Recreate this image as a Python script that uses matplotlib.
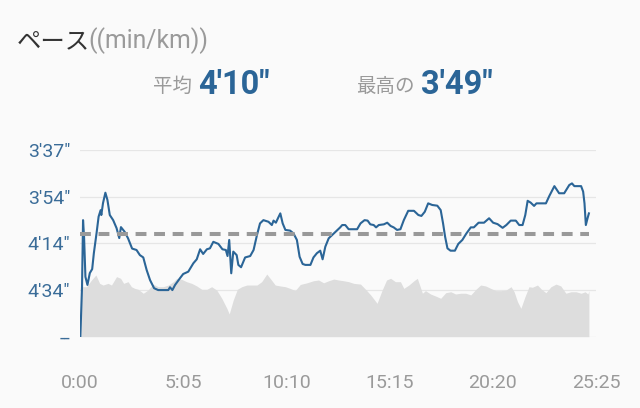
import numpy as np
import matplotlib
matplotlib.use("Agg")
import matplotlib.pyplot as plt

# ---------------- data ----------------
# pace line: time (s) and pace (s per km)
line_t = [1, 6, 9, 12, 16, 22, 29, 36, 41, 49, 55, 61, 63, 68, 75, 81, 88, 98, 108, 116,
          121, 132, 142, 154, 167, 177, 187, 197, 207, 219, 231, 261, 266, 273, 281, 295, 305, 320, 335, 345,
          355, 364, 375, 384, 394, 409, 421, 431, 436, 441, 444, 447, 453, 463, 468, 476, 488, 503, 513, 523,
          532, 542, 557, 567, 572, 579, 585, 592, 599, 607, 621, 631, 641, 649, 658, 666, 681, 690, 700, 710,
          717, 725, 735, 745, 755, 769, 775, 784, 794, 819, 829, 841, 850, 858, 868, 875, 883, 898, 908, 918,
          927, 937, 947, 957, 970, 987, 1000, 1009, 1019, 1029, 1041, 1056, 1066, 1073, 1079, 1086, 1095, 1108, 1118, 1130,
          1142, 1155, 1164, 1178, 1194, 1209, 1221, 1234, 1249, 1260, 1273, 1288, 1298, 1308, 1316, 1323, 1332, 1342, 1349, 1377,
          1387, 1402, 1416, 1431, 1446, 1454, 1461, 1481, 1487, 1491, 1495, 1500, 1504]
line_pace = [294, 272.6, 244, 251.1, 268.3, 271.8, 266.7, 265, 258.1, 249.5, 242.5, 239.7, 241.8, 236.7, 232.5, 235.3, 241.8, 244, 247.4, 251.7,
             247, 249, 251.8, 256.2, 256.8, 259, 260, 265.4, 269.7, 273.2, 274, 274, 272.8, 274, 271.8, 269, 267.1, 266.1, 262.5, 260.8,
             256.5, 258.5, 256.5, 256.1, 253.3, 254.2, 256.5, 256.8, 259.4, 252.5, 259.7, 266.8, 257.5, 259, 263.2, 264.2, 260, 259.4, 256.8, 250.4,
             245.4, 244, 244.7, 246.1, 244.2, 245.1, 243.2, 241.1, 245.4, 248.2, 248.5, 249.7, 252.5, 259.7, 262.8, 263.2, 263.2, 260, 258.2, 257.1,
             260.8, 255.4, 251.8, 250.4, 249, 247.1, 246.1, 246.1, 247.9, 247.9, 245.4, 244, 244.2, 245.8, 246.1, 247.1, 246.1, 245.8, 245.1, 246.5,
             247.1, 248.2, 247.9, 244, 240, 240, 241.8, 242.2, 240.4, 236.8, 237.5, 237.8, 239.7, 245.4, 251.1, 256.1, 257.1, 257.1, 254.2, 252.5,
             249.7, 247.1, 247.1, 245.1, 245.1, 243.2, 245.1, 245.7, 247.3, 246.1, 244.2, 244.2, 246.1, 246.1, 241.8, 235.7, 236.5, 237.9, 236.8, 236.8,
             233.7, 230.1, 232.7, 232.7, 229.7, 229.1, 230.1, 230.1, 232.1, 236.8, 246.1, 243.2, 241.1]

# background area series (relative, 0-100)
area_t = [2, 7, 19, 34, 47, 58, 68, 83, 93, 108, 120, 129, 142, 152, 162, 172, 187, 201, 216, 231,
          246, 261, 276, 286, 300, 315, 330, 345, 360, 375, 389, 404, 419, 434, 441, 453, 465, 478, 493, 508,
          523, 537, 552, 564, 577, 592, 607, 621, 636, 651, 671, 690, 705, 720, 735, 750, 764, 779, 794, 809,
          829, 844, 859, 878, 893, 906, 918, 932, 947, 957, 972, 987, 997, 1012, 1021, 1036, 1051, 1066, 1081, 1096,
          1110, 1125, 1140, 1155, 1170, 1184, 1199, 1214, 1229, 1244, 1259, 1274, 1283, 1293, 1303, 1315, 1327, 1337, 1352, 1364,
          1377, 1392, 1407, 1421, 1436, 1451, 1466, 1481, 1493, 1501, 1504]
area_v = [26.5, 26.8, 26.8, 30.4, 33.1, 28.6, 27.7, 28.6, 27.7, 32.2, 31.3, 28.6, 29.5, 26.8, 25.9, 25.4, 23.3, 25.0, 28.2, 26.8,
          26.8, 27.7, 29.5, 31.3, 30.8, 29.5, 28.6, 27.2, 25.4, 25.4, 26.8, 25.0, 20.6, 15.2, 12.2, 19.7, 25.4, 26.8, 27.7, 27.7,
          27.7, 29.5, 33.6, 30.8, 27.7, 27.2, 26.8, 25.9, 24.7, 28.0, 28.9, 30.0, 30.4, 28.9, 30.0, 30.9, 30.4, 30.0, 29.5, 28.6,
          28.2, 25.4, 22.4, 17.9, 25.0, 30.4, 31.3, 29.5, 29.5, 25.9, 27.7, 30.0, 31.3, 23.3, 24.7, 22.9, 21.8, 20.6, 23.6, 24.1,
          22.9, 23.3, 23.3, 22.4, 25.4, 27.7, 27.2, 25.9, 24.7, 24.7, 25.0, 26.8, 24.1, 18.8, 15.2, 21.4, 26.8, 26.5, 27.7, 25.4,
          23.6, 26.8, 28.2, 27.2, 23.3, 24.1, 24.1, 23.3, 24.1, 22.9, 24.7]

avg_pace = 250   # 4'10"
best_pace = 229  # 3'49"

y_ticks = [217, 234, 254, 274, 294]
y_labels = ["3'37\"", "3'54\"", "4'14\"", "4'34\"", "--"]
x_ticks = [0, 305, 610, 915, 1220, 1525]
x_labels = ["0:00", "5:05", "10:10", "15:15", "20:20", "25:25"]

# ---------------- style ----------------
BG = "#fafafa"
BLUE = "#2b6597"
TICKBLUE = "#3a6c98"
GRAY = "#9a9a9a"

fig = plt.figure(figsize=(6.4, 4.08), dpi=100, facecolor=BG)
rect = [80 / 640, 1 - 336.7 / 408, 516 / 640, (336.7 - 150.2) / 408]

grid_pos = list(range(len(y_ticks)))[::-1]


def fwd(v):
    return -np.interp(v, y_ticks, grid_pos)


def inv(v):
    return np.interp(-np.asarray(v), grid_pos[::-1], y_ticks[::-1])


ax = fig.add_axes(rect)
ax.set_facecolor(BG)
ax.set_yscale("function", functions=(fwd, inv))
ax.set_ylim(294, 217)
ax.set_xlim(0, 1525)
ax.set_yticks(y_ticks)
ax.set_yticklabels(y_labels)
ax.set_xticks(x_ticks)
ax.set_xticklabels(x_labels)
ax.tick_params(axis="y", length=0, pad=7, labelsize=14, labelcolor=TICKBLUE)
ax.tick_params(axis="x", length=0, pad=27, labelsize=14, labelcolor=GRAY)
for lab in ax.get_yticklabels() + ax.get_xticklabels():
    lab.set_fontfamily("Roboto")
ax.grid(axis="y", color="#e6e6e6", linewidth=0.9)
for s in ax.spines.values():
    s.set_visible(False)

# area layer
ax_area = ax.twinx()
ax_area.set_zorder(ax.get_zorder() + 1)
ax_area.patch.set_visible(False)
ax_area.fill_between(area_t, 0, area_v, color="#dddddd", linewidth=0)
ax_area.set_ylim(0, 100)
ax_area.yaxis.set_visible(False)
for s in ax_area.spines.values():
    s.set_visible(False)

# line layer
ax_line = ax.twinx()
ax_line.set_zorder(ax.get_zorder() + 2)
ax_line.patch.set_visible(False)
ax_line.set_yscale("function", functions=(fwd, inv))
ax_line.set_ylim(294, 217)
ax_line.yaxis.set_visible(False)
for s in ax_line.spines.values():
    s.set_visible(False)
ax_line.plot(line_t, line_pace, color=BLUE, linewidth=1.5, solid_joinstyle="round")
ax_line.plot([line_t[0], line_t[-1]], [avg_pace, avg_pace], color="#999999",
             linewidth=2.9, dashes=(2.7, 1.9))
ax.set_xlim(0, 1525)

# ---------------- header texts ----------------
def fy(px):
    return 1 - px / 408


def fx(px):
    return px / 640


fig.text(fx(17), fy(48.5), "ペース", fontfamily="Noto Sans CJK JP", fontsize=17.6,
         color="#333333", va="baseline")
fig.text(fx(88), fy(48.5), "((min/km))", fontfamily="Roboto", fontsize=17.8,
         color=GRAY, va="baseline")


def fmt(p):
    return f"{p // 60}'{p % 60:02d}\""


fig.text(fx(153), fy(92), "平均", fontfamily="Noto Sans CJK JP", fontsize=14,
         color=GRAY, va="baseline")
fig.text(fx(198), fy(94), fmt(avg_pace), fontfamily="Roboto", fontweight="bold",
         fontsize=23.5, color=BLUE, va="baseline")
fig.text(fx(356), fy(92), "最高の", fontfamily="Noto Sans CJK JP", fontsize=14,
         color=GRAY, va="baseline")
fig.text(fx(421), fy(94), fmt(best_pace), fontfamily="Roboto", fontweight="bold",
         fontsize=23.5, color=BLUE, va="baseline")

fig.savefig("out.png", dpi=100, facecolor=BG)
